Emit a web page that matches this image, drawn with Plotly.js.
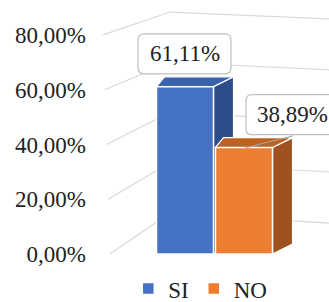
<!DOCTYPE html>
<html>
<head>
<meta charset="utf-8">
<script src="https://cdn.plot.ly/plotly-3.0.1.min.js"></script>
<style>html,body{margin:0;padding:0;background:#fff;}#chart{width:329px;height:302px;}</style>
</head>
<body>
<div id="chart"></div>
<script>
// ---- data ----
const categories = ['SI', 'NO'];
const values = [0.6111, 0.3889];
const tickVals = [0, 0.2, 0.4, 0.6, 0.8];

// ---- styling ----
const frontColors = ['#4472C4', '#ED7D31'];
const sideColors = ['#2D4D8A', '#9E521F'];
const topColors = ['#3A63AE', '#C0611F'];
const barCenters = [90, 149];
const barWidth = 57;
const depthX = 20, depthY = 0.036;
const FONT = 'Liberation Serif';
const PXY = 1 / 273.75;   // one pixel in y data units

const fmt = v => (v * 100).toFixed(2).replace('.', ',') + '%';

const traces = categories.map((c, i) => ({
  type: 'bar',
  name: c,
  x: [barCenters[i]],
  y: [values[i]],
  width: [barWidth],
  marker: {color: frontColors[i], line: {color: '#ffffff', width: 1.5}},
  hoverinfo: 'skip'
}));

const shapes = [];
// perspective gridlines (left wall + back wall)
const backL = v => 0.150 + 0.917 * v;
const backR = v => 0.113 + 0.932 * v;
tickVals.forEach(v => {
  const xf = 15 - v * 8.75;
  shapes.push({type: 'path', layer: 'below', xref: 'x', yref: 'y',
    path: `M${xf},${v} L75,${backL(v)} L234,${backR(v)}`,
    line: {color: '#D9D9D9', width: 1.2}});
});
// 3D faces of bars
categories.forEach((c, i) => {
  const v = values[i];
  const x0 = barCenters[i] - barWidth / 2, x1 = barCenters[i] + barWidth / 2;
  shapes.push({type: 'path', layer: 'between', xref: 'x', yref: 'y',
    path: `M${x1},${v} L${x1 + depthX},${v + depthY} L${x1 + depthX},${depthY} L${x1},0 Z`,
    fillcolor: sideColors[i], line: {color: '#ffffff', width: 1.2}});
  shapes.push({type: 'path', layer: 'between', xref: 'x', yref: 'y',
    path: `M${x0},${v} L${x1},${v} L${x1 + depthX},${v + depthY} L${x0 + depthX * 0.4},${v + depthY} Z`,
    fillcolor: topColors[i], line: {color: '#ffffff', width: 1.2}});
});
// leader line for second label
shapes.push({type: 'line', layer: 'above', xref: 'x', yref: 'y',
  x0: barCenters[1] + 1, y0: values[1] - 0.002,
  x1: barCenters[1] + 49, y1: values[1] + 0.043,
  line: {color: '#A6A6A6', width: 1.2}});

// rounded label boxes
const annXOffsets = [-0.5, 48.5];
const halfW = 46.5, halfH = 20, rad = 6;
function roundRect(cx, cy) {
  const l = cx - halfW, r = cx + halfW, t = cy + halfH * PXY, b = cy - halfH * PXY;
  const ry = rad * PXY;
  return `M${l + rad},${t} L${r - rad},${t} Q${r},${t} ${r},${t - ry} L${r},${b + ry} Q${r},${b} ${r - rad},${b} ` +
         `L${l + rad},${b} Q${l},${b} ${l},${b + ry} L${l},${t - ry} Q${l},${t} ${l + rad},${t} Z`;
}
categories.forEach((c, i) => {
  shapes.push({type: 'path', layer: 'above', xref: 'x', yref: 'y',
    path: roundRect(barCenters[i] + annXOffsets[i], values[i] + 0.12),
    fillcolor: '#ffffff', line: {color: '#BFBFBF', width: 1.2}});
});

const annotations = categories.map((c, i) => ({
  xref: 'x', yref: 'y', xanchor: 'center', yanchor: 'middle',
  x: barCenters[i] + annXOffsets[i], y: values[i] + 0.12,
  text: fmt(values[i]), showarrow: false,
  font: {family: FONT, size: 23, color: '#222222'}
}));

const layout = {
  width: 329, height: 302,
  margin: {l: 95, r: 0, t: 7, b: 39, autoexpand: false},
  paper_bgcolor: '#ffffff', plot_bgcolor: '#ffffff',
  separators: ',.',
  barmode: 'overlay',
  showlegend: true,
  legend: {orientation: 'h', x: 0.45, xanchor: 'center', y: -0.1, yanchor: 'middle',
    font: {family: FONT, size: 23, color: '#222222'}, itemwidth: 30, tracegroupgap: 0},
  xaxis: {range: [0, 234], showgrid: false, zeroline: false, showline: false,
    showticklabels: false, ticks: '', fixedrange: true},
  yaxis: {range: [-0.033, 0.902], tickvals: tickVals, tickformat: '.2%',
    showgrid: false, zeroline: false, showline: false, ticks: '',
    ticklabelstandoff: 8,
    tickfont: {family: FONT, size: 23, color: '#222222'}, fixedrange: true},
  shapes: shapes,
  annotations: annotations,
  font: {family: FONT}
};

Plotly.newPlot('chart', traces, layout, {displayModeBar: false, staticPlot: true});
</script>
</body>
</html>
